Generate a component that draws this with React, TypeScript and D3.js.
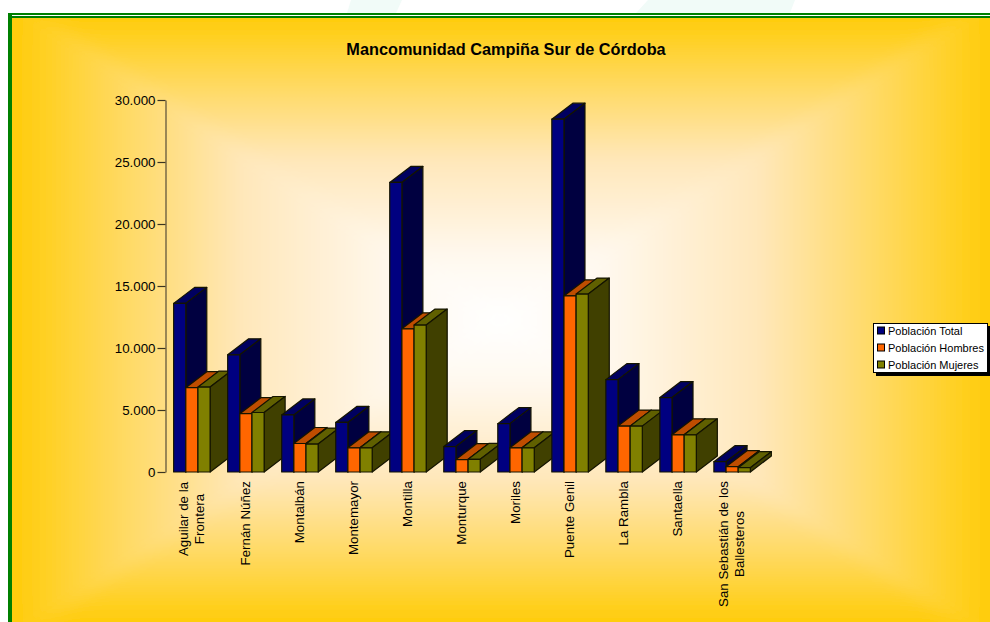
import * as d3 from "d3";
import { useEffect, useRef } from "react";

const categories = [
  ["Aguilar de la", "Frontera"],
  ["Fernán Núñez"],
  ["Montalbán"],
  ["Montemayor"],
  ["Montilla"],
  ["Monturque"],
  ["Moriles"],
  ["Puente Genil"],
  ["La Rambla"],
  ["Santaella"],
  ["San Sebastián de los", "Ballesteros"],
];
const seriesNames = ["Población Total", "Población Hombres", "Población Mujeres"];
const total = [13600, 9450, 4600, 4000, 23350, 2050, 3900, 28450, 7450, 6000, 830];
const hombres = [6800, 4700, 2300, 1950, 11550, 1000, 1950, 14200, 3700, 3000, 430];
const mujeres = [6850, 4800, 2250, 1950, 11850, 1020, 1950, 14350, 3700, 3000, 350];
const yTicks = [0, 5000, 10000, 15000, 20000, 25000, 30000];

const frontColors = ["#000080", "#ff6600", "#808000"];
const topColors = ["#000060", "#bf4d00", "#606000"];
const sideColors = ["#000040", "#803300", "#404000"];

const FONT = "'Liberation Sans', Arial, sans-serif";

export default function App() {
  const ref = useRef<SVGSVGElement>(null);

  useEffect(() => {
    const width = 990;
    const height = 622;
    const svg = d3.select(ref.current);
    svg.selectAll("*").remove();

    // ---- faint tint above the frame ----
    const tint = svg.append("g").attr("fill", "#f1fbf8");
    tint.append("path").attr("d", "M351,0L402,0L396,13L347,13Z");
    tint.append("path").attr("d", "M648,0L795,0L790,13L636,13Z");

    // ---- background: gold edges fading to white in the middle ----
    const box = { x0: 12, y0: 18, x1: 990, y1: 622 };
    const pad = 60; // painted past the edges so the blur keeps them gold
    const cx = 500;
    const cy = 320;
    const defs = svg.append("defs");
    const gradient = (id: string, x1: number, y1: number, x2: number, y2: number) => {
      const g = defs
        .append("linearGradient")
        .attr("id", id)
        .attr("gradientUnits", "userSpaceOnUse")
        .attr("x1", x1)
        .attr("y1", y1)
        .attr("x2", x2)
        .attr("y2", y2);
      g.append("stop").attr("offset", 0).attr("stop-color", "#ffcc08");
      g.append("stop").attr("offset", 0.22).attr("stop-color", "#ffd95f");
      g.append("stop").attr("offset", 0.47).attr("stop-color", "#ffe7ba");
      g.append("stop").attr("offset", 0.8).attr("stop-color", "#fff9f0");
      g.append("stop").attr("offset", 1).attr("stop-color", "#ffffff");
    };
    gradient("bgTop", 0, box.y0, 0, cy);
    gradient("bgBottom", 0, box.y1, 0, cy);
    gradient("bgLeft", box.x0, 0, cx, 0);
    gradient("bgRight", box.x1, 0, cx, 0);

    defs
      .append("filter")
      .attr("id", "bgSoft")
      .attr("filterUnits", "userSpaceOnUse")
      .attr("x", box.x0 - pad)
      .attr("y", box.y0 - pad)
      .attr("width", box.x1 - box.x0 + 2 * pad)
      .attr("height", box.y1 - box.y0 + 2 * pad)
      .append("feGaussianBlur")
      .attr("stdDeviation", 8);
    defs
      .append("clipPath")
      .attr("id", "bgClip")
      .append("rect")
      .attr("x", box.x0)
      .attr("y", box.y0)
      .attr("width", box.x1 - box.x0)
      .attr("height", box.y1 - box.y0);

    const tl = [box.x0 - pad, box.y0 - pad];
    const tr = [box.x1 + pad, box.y0 - pad];
    const bl = [box.x0 - pad, box.y1 + pad];
    const br = [box.x1 + pad, box.y1 + pad];
    const corners = (a: number[], b: number[]) => `M${a}L${b}L${cx},${cy}Z`;
    const bg = svg.append("g").attr("clip-path", "url(#bgClip)").append("g").attr("filter", "url(#bgSoft)");
    bg.append("path").attr("d", corners(tl, tr)).attr("fill", "url(#bgTop)");
    bg.append("path").attr("d", corners(bl, br)).attr("fill", "url(#bgBottom)");
    bg.append("path").attr("d", corners(tl, bl)).attr("fill", "url(#bgLeft)");
    bg.append("path").attr("d", corners(tr, br)).attr("fill", "url(#bgRight)");

    // ---- green frame ----
    const frame = svg.append("g").attr("fill", "#008000");
    frame.append("rect").attr("x", 8).attr("y", 13).attr("width", width - 8).attr("height", 2);
    frame.append("rect").attr("x", 10).attr("y", 16).attr("width", width - 10).attr("height", 2);
    frame.append("rect").attr("x", 8).attr("y", 13).attr("width", 4).attr("height", height - 13);

    // ---- scales ----
    const groups = categories.map((_, i) => i);
    const x = d3.scaleBand<number>().domain(groups).range([165, 759]).paddingInner(0.325).paddingOuter(0.16);
    const xSeries = d3.scaleBand<number>().domain([0, 1, 2]).range([0, x.bandwidth()]);
    const y = d3.scaleLinear().domain([0, 30000]).range([472, 100]);
    const depthX = 21;
    const depthY = -16;
    const values = [total, hombres, mujeres];

    // ---- bars: front, top, side ----
    const plot = svg.append("g").attr("stroke", "#141400").attr("stroke-width", 1.2).attr("stroke-linejoin", "round");
    groups.forEach((g) => {
      [0, 1, 2].forEach((s) => {
        const left = x(g)! + xSeries(s)!;
        const right = left + xSeries.bandwidth();
        const top = y(values[s][g]);
        const base = y(0);
        const bar = plot.append("g");
        bar
          .append("path")
          .attr("d", `M${left},${top}L${left + depthX},${top + depthY}L${right + depthX},${top + depthY}L${right},${top}Z`)
          .attr("fill", topColors[s]);
        bar
          .append("path")
          .attr("d", `M${right},${top}L${right + depthX},${top + depthY}L${right + depthX},${base + depthY}L${right},${base}Z`)
          .attr("fill", sideColors[s]);
        bar
          .append("rect")
          .attr("x", left)
          .attr("y", top)
          .attr("width", right - left)
          .attr("height", base - top)
          .attr("fill", frontColors[s]);
      });
    });

    // ---- y axis ----
    const thousands = d3.formatLocale({ decimal: ",", thousands: ".", grouping: [3], currency: ["", "€"] }).format(",");
    const axis = svg
      .append("g")
      .attr("transform", "translate(165.5,0)")
      .call(d3.axisLeft(y).tickValues(yTicks).tickFormat((d) => thousands(+d)).tickSize(8).tickSizeOuter(0).tickPadding(2));
    axis.selectAll("text").attr("font-family", FONT).attr("font-size", 13.33).attr("fill", "#000");
    axis.select(".domain").attr("stroke", "#6f6242").attr("stroke-width", 1.4);
    axis.selectAll(".tick line").attr("stroke", "#3a3320").attr("stroke-width", 1.2);

    // ---- category labels ----
    const labels = svg.append("g").attr("font-family", FONT).attr("font-size", 13.33).attr("fill", "#000");
    categories.forEach((lines, i) => {
      const center = x(i)! + x.bandwidth() / 2;
      const lineH = 16;
      lines.forEach((line, j) => {
        const off = (j - (lines.length - 1) / 2) * lineH;
        labels
          .append("text")
          .attr("text-anchor", lines.length > 1 ? "middle" : "end")
          .attr("transform", `translate(${center + off - 1},${lines.length > 1 ? 0 : 481}) rotate(-90)`)
          .attr("x", lines.length > 1 ? (i === 0 ? -519 : -544) : 0)
          .attr("y", 5)
          .text(line);
      });
    });

    // ---- title ----
    svg
      .append("text")
      .attr("x", 506)
      .attr("y", 55)
      .attr("text-anchor", "middle")
      .attr("font-family", FONT)
      .attr("font-size", 16.3)
      .attr("font-weight", 700)
      .text("Mancomunidad Campiña Sur de Córdoba");

    // ---- legend ----
    const legend = svg.append("g").attr("font-family", FONT).attr("font-size", 11);
    legend.append("rect").attr("x", 876).attr("y", 326).attr("width", 115).attr("height", 50).attr("fill", "#000");
    legend.append("rect").attr("x", 873.5).attr("y", 323.5).attr("width", 114).attr("height", 49).attr("fill", "#fff").attr("stroke", "#000");
    seriesNames.forEach((name, i) => {
      const rowY = 331 + i * 17;
      legend.append("rect").attr("x", 877.5).attr("y", rowY - 4).attr("width", 7).attr("height", 7).attr("fill", frontColors[i]).attr("stroke", "#000");
      legend.append("text").attr("x", 888).attr("y", rowY + 4).attr("fill", "#000").text(name);
    });
  }, []);

  return <svg ref={ref} width={990} height={622} style={{ position: "absolute", left: 0, top: 0, display: "block" }} />;
}
